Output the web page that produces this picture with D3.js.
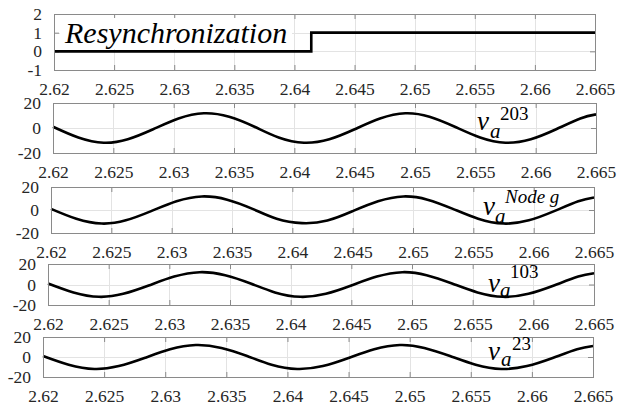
<!DOCTYPE html>
<html><head><meta charset="utf-8"><script src="https://cdn.jsdelivr.net/npm/d3@7"></script></head>
<body style="margin:0">
<svg id="chart" width="629" height="409"></svg>
<script>
// Shared time axis (s)
const timeTicks = [2.62, 2.625, 2.63, 2.635, 2.64, 2.645, 2.65, 2.655, 2.66, 2.665];
const timeDomain = [2.62, 2.665];

// Resynchronization flag
const resyncTime = [2.62, 2.6414, 2.6414, 2.665];
const resyncFlag = [0, 0, 1, 1];
const resyncTicks = [-1, 0, 1, 2];

// Phase-a voltage samples (V), one sample every eighth of a 60 Hz cycle
const sampleTime = [2.6200, 2.6221, 2.6242, 2.6262, 2.6283, 2.6304, 2.6325, 2.6346,
                    2.6367, 2.6387, 2.6408, 2.6429, 2.6450, 2.6471, 2.6492, 2.6512,
                    2.6533, 2.6554, 2.6575, 2.6596, 2.6617, 2.6637, 2.6650];
const va203  = [1.0, -7.6, -11.8, -9.0, -1.0, 7.6, 11.8, 9.0,
                1.0, -7.6, -11.8, -9.0, -1.0, 7.6, 11.8, 9.0,
                1.0, -7.6, -11.8, -9.0, -1.0, 7.6, 10.9];
const vaNodeG = [1.0, -7.6, -11.8, -9.0, -1.0, 7.6, 11.8, 9.0,
                 1.0, -7.6, -11.4, -9.2, -1.0, 7.6, 11.8, 9.0,
                 1.0, -7.6, -11.8, -9.0, -1.0, 7.6, 10.9];
const va103  = [1.0, -7.7, -12.0, -9.1, -1.0, 7.7, 12.0, 9.1,
                1.0, -7.7, -12.0, -9.1, -1.0, 7.7, 12.0, 9.1,
                1.0, -7.7, -12.0, -9.1, -1.0, 7.7, 11.0];
const va23   = [1.0, -7.7, -12.0, -9.1, -1.0, 7.7, 12.0, 9.1,
                1.0, -7.7, -12.0, -9.1, -1.0, 7.7, 12.0, 9.1,
                1.0, -7.7, -12.0, -9.1, -1.0, 7.7, 11.0];
const voltTicks = [-20, 0, 20];

const FACE = "Times New Roman";
const svg = d3.select("#chart");
svg.append("rect").attr("width", 629).attr("height", 409).attr("fill", "#fff");

const panels = [
  { box: [54, 14, 595, 70],  yDomain: [-1, 2],   yTicks: resyncTicks, t: resyncTime, v: resyncFlag, curve: d3.curveLinear },
  { box: [53, 103, 596, 153], yDomain: [-20, 20], yTicks: voltTicks, t: sampleTime, v: va203,   curve: d3.curveNatural,
    label: { vx: 477, vy: 130, ax: 490, ay: 138, sup: "203", sx: 500, sy: 120, supItalic: false } },
  { box: [51, 187, 594, 233], yDomain: [-20, 20], yTicks: voltTicks, t: sampleTime, v: vaNodeG, curve: d3.curveNatural,
    label: { vx: 483, vy: 215, ax: 495, ay: 223, sup: "Node g", sx: 505, sy: 203, supItalic: true } },
  { box: [48, 264, 594, 305], yDomain: [-20, 20], yTicks: voltTicks, t: sampleTime, v: va103,   curve: d3.curveNatural,
    label: { vx: 488, vy: 292, ax: 500, ay: 297, sup: "103", sx: 510, sy: 278, supItalic: false } },
  { box: [43, 337, 593, 377], yDomain: [-20, 20], yTicks: voltTicks, t: sampleTime, v: va23,    curve: d3.curveNatural,
    label: { vx: 488, vy: 360, ax: 501, ay: 366, sup: "23", sx: 512, sy: 350, supItalic: false } }
];

const axisColor = "#8a8a8a";
const gridColor = "#e3e3e3";
const textColor = "#262626";
const tickLen = 5;
const plain = d => String(d);

const notes = [];

panels.forEach((p, i) => {
  const [x0, y0, x1, y1] = p.box;
  const x = d3.scaleLinear().domain(timeDomain).range([x0, x1]);
  const y = d3.scaleLinear().domain(p.yDomain).range([y1, y0]);
  const g = svg.append("g");

  // grid
  g.append("g").selectAll("line").data(timeTicks.slice(1, -1)).join("line")
    .attr("x1", d => Math.round(x(d)) + 0.5).attr("x2", d => Math.round(x(d)) + 0.5)
    .attr("y1", y0).attr("y2", y1)
    .attr("stroke", gridColor).attr("stroke-width", 1);
  g.append("g").selectAll("line").data(p.yTicks.slice(1, -1)).join("line")
    .attr("x1", x0).attr("x2", x1)
    .attr("y1", d => Math.round(y(d)) + 0.5).attr("y2", d => Math.round(y(d)) + 0.5)
    .attr("stroke", gridColor).attr("stroke-width", 1);

  // bottom axis with inward ticks, mirrored at the top
  const xAxis = d3.axisBottom(x).tickValues(timeTicks)
    .tickFormat(plain).tickSizeInner(-tickLen).tickSizeOuter(0).tickPadding(tickLen + 8);
  const xa = g.append("g").attr("transform", `translate(0,${y1})`).call(xAxis);
  xa.attr("font-family", FACE).attr("font-size", 17.5);
  xa.select(".domain").remove();
  xa.selectAll(".tick line").attr("stroke", axisColor);
  xa.selectAll(".tick text").attr("fill", textColor);
  const xTop = d3.axisTop(x).tickValues(timeTicks).tickFormat("").tickSizeInner(-tickLen).tickSizeOuter(0);
  const xt = g.append("g").attr("transform", `translate(0,${y0})`).call(xTop);
  xt.select(".domain").remove();
  xt.selectAll(".tick line").attr("stroke", axisColor);

  // left axis
  const yAxis = d3.axisLeft(y).tickValues(p.yTicks).tickFormat(plain)
    .tickSizeInner(-tickLen).tickSizeOuter(0).tickPadding(7 + tickLen);
  const ya = g.append("g").attr("transform", `translate(${x0},0)`).call(yAxis);
  ya.attr("font-family", FACE).attr("font-size", 17.5);
  ya.select(".domain").remove();
  ya.selectAll(".tick line").attr("stroke", axisColor);
  ya.selectAll(".tick text").attr("fill", textColor);
  const yRight = d3.axisRight(y).tickValues(p.yTicks).tickFormat("").tickSizeInner(-tickLen).tickSizeOuter(0);
  const yr = g.append("g").attr("transform", `translate(${x1},0)`).call(yRight);
  yr.select(".domain").remove();
  yr.selectAll(".tick line").attr("stroke", axisColor);

  // text box for the flag panel
  if (i === 0) {
    g.append("rect").attr("x", 60).attr("y", 18).attr("width", 232).attr("height", 31).attr("fill", "#fff");
  }

  // trace
  const pts = p.t.map((t, k) => [t, p.v[k]]);
  g.append("path").datum(pts)
    .attr("d", d3.line().x(d => x(d[0])).y(d => y(d[1])).curve(p.curve))
    .attr("fill", "none").attr("stroke", "#000").attr("stroke-width", 2.6)
    .attr("stroke-linejoin", "miter");

  // frame
  g.append("rect").attr("x", x0 + 0.5).attr("y", y0 + 0.5)
    .attr("width", x1 - x0).attr("height", y1 - y0)
    .attr("fill", "none").attr("stroke", axisColor).attr("stroke-width", 1);

  if (i === 0) notes.push({ x: 65, y: 43, size: 30, italic: true, text: "Resynchronization" });
  if (p.label) {
    const L = p.label;
    notes.push({ x: L.vx, y: L.vy, size: 27, italic: true, text: "v" });
    notes.push({ x: L.ax, y: L.ay, size: 21, italic: true, text: "a" });
    notes.push({ x: L.sx, y: L.sy, size: 19, italic: L.supItalic, text: L.sup });
  }
});

svg.selectAll("text.note").data(notes).join("text")
  .attr("class", "note")
  .attr("x", d => d.x).attr("y", d => d.y)
  .attr("font-size", d => d.size)
  .attr("font-style", d => d.italic ? "italic" : "normal")
  .attr("fill", "#000")
  .style("font-family", () => `'${FACE}'`)
  .text(d => d.text);
</script>
</body>
</html>
